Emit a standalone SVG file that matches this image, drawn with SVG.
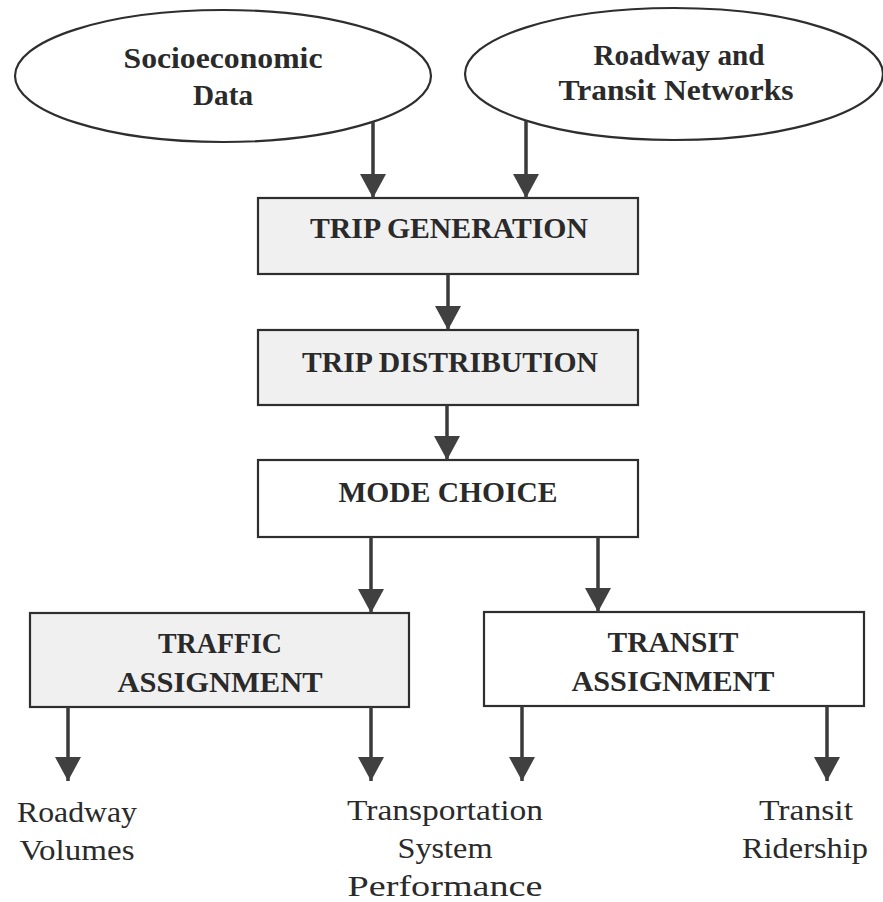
<svg xmlns="http://www.w3.org/2000/svg" width="883" height="902" viewBox="0 0 883 902">
<defs>
<marker id="ah" viewBox="0 0 24 26" refX="24" refY="13" markerWidth="24" markerHeight="26" markerUnits="userSpaceOnUse" orient="auto">
<path d="M0,0 L24,13 L0,26 z" fill="#404040"/>
</marker>
</defs>
<style>
.bg{fill:#ffffff}
.node{stroke:#2e2e2e;stroke-width:2.2}
.shade{fill:#f0f0f0}
.plain{fill:#ffffff}
.lbl{font-family:"Liberation Serif","Times New Roman",serif;font-weight:bold;font-size:29px;fill:#2a2a2a;text-anchor:middle}
.out{font-family:"Liberation Serif","Times New Roman",serif;font-size:29px;fill:#2a2a2a;text-anchor:middle}
.conn{stroke:#3a3a3a;stroke-width:3.5;fill:none;marker-end:url(#ah)}
</style>
<rect class="bg" x="0" y="0" width="883" height="902"/>
<g id="socioeconomic-data">
<ellipse class="node plain" cx="223" cy="76" rx="208" ry="66"/>
<text class="lbl" x="223" y="68" textLength="199" lengthAdjust="spacingAndGlyphs">Socioeconomic</text>
<text class="lbl" x="223" y="105" textLength="60" lengthAdjust="spacingAndGlyphs">Data</text>
</g>
<g id="roadway-transit-networks">
<ellipse class="node plain" cx="674" cy="74" rx="209" ry="66"/>
<text class="lbl" x="679" y="65" textLength="171" lengthAdjust="spacingAndGlyphs">Roadway and</text>
<text class="lbl" x="676" y="100" textLength="235" lengthAdjust="spacingAndGlyphs">Transit Networks</text>
</g>
<g id="trip-generation">
<rect class="node shade" x="258" y="198" width="380" height="76"/>
<text class="lbl" x="449" y="238" textLength="278" lengthAdjust="spacingAndGlyphs">TRIP GENERATION</text>
</g>
<g id="trip-distribution">
<rect class="node shade" x="258" y="330" width="380" height="75"/>
<text class="lbl" x="450" y="372" textLength="296" lengthAdjust="spacingAndGlyphs">TRIP DISTRIBUTION</text>
</g>
<g id="mode-choice">
<rect class="node plain" x="258" y="460" width="380" height="77"/>
<text class="lbl" x="448" y="502" textLength="219" lengthAdjust="spacingAndGlyphs">MODE CHOICE</text>
</g>
<g id="traffic-assignment">
<rect class="node shade" x="30" y="613" width="379" height="94"/>
<text class="lbl" x="220" y="653" textLength="124" lengthAdjust="spacingAndGlyphs">TRAFFIC</text>
<text class="lbl" x="220" y="692" textLength="205" lengthAdjust="spacingAndGlyphs">ASSIGNMENT</text>
</g>
<g id="transit-assignment">
<rect class="node plain" x="484" y="612" width="380" height="94"/>
<text class="lbl" x="673" y="652" textLength="131" lengthAdjust="spacingAndGlyphs">TRANSIT</text>
<text class="lbl" x="673" y="691" textLength="203" lengthAdjust="spacingAndGlyphs">ASSIGNMENT</text>
</g>
<g id="roadway-volumes">
<text class="out" x="77" y="822" textLength="120" lengthAdjust="spacingAndGlyphs">Roadway</text>
<text class="out" x="77" y="860" textLength="115" lengthAdjust="spacingAndGlyphs">Volumes</text>
</g>
<g id="transportation-system-performance">
<text class="out" x="445" y="820" textLength="196" lengthAdjust="spacingAndGlyphs">Transportation</text>
<text class="out" x="445" y="858" textLength="95" lengthAdjust="spacingAndGlyphs">System</text>
<text class="out" x="445" y="896" textLength="195" lengthAdjust="spacingAndGlyphs">Performance</text>
</g>
<g id="transit-ridership">
<text class="out" x="806" y="820" textLength="94" lengthAdjust="spacingAndGlyphs">Transit</text>
<text class="out" x="805" y="858" textLength="126" lengthAdjust="spacingAndGlyphs">Ridership</text>
</g>
<g id="connectors">
<line class="conn" x1="373" y1="122" x2="373" y2="198"/>
<line class="conn" x1="526" y1="121" x2="526" y2="198"/>
<line class="conn" x1="448" y1="274" x2="448" y2="330"/>
<line class="conn" x1="447" y1="405" x2="447" y2="460"/>
<line class="conn" x1="371" y1="537" x2="371" y2="613"/>
<line class="conn" x1="598" y1="537" x2="598" y2="612"/>
<line class="conn" x1="68" y1="707" x2="68" y2="781"/>
<line class="conn" x1="371" y1="707" x2="371" y2="781"/>
<line class="conn" x1="522" y1="706" x2="522" y2="781"/>
<line class="conn" x1="827" y1="706" x2="827" y2="781"/>
</g>
</svg>
